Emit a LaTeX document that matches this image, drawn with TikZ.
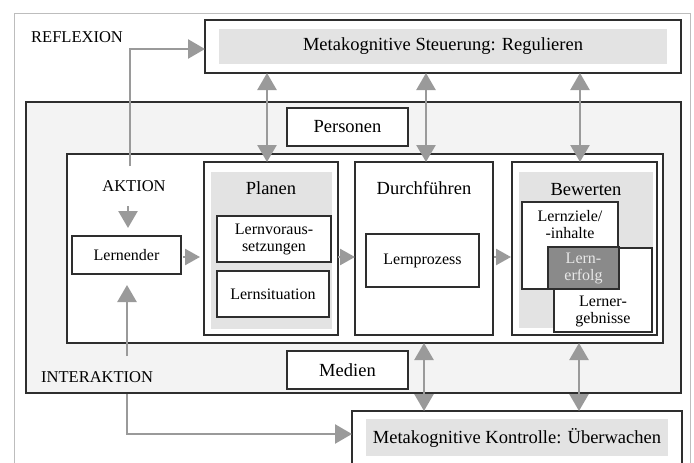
\documentclass[tikz,border=0pt]{standalone}
\usepackage{fontspec}
\setmainfont{Liberation Serif}
\usetikzlibrary{arrows.meta,calc}
\definecolor{arrgray}{HTML}{9A9A9A}
\definecolor{boxline}{HTML}{2E2E2E}
\definecolor{lightbg}{HTML}{F3F3F3}
\definecolor{bargray}{HTML}{E3E3E3}
\definecolor{darkfill}{HTML}{8A8A8A}
\definecolor{paletext}{HTML}{E8E8E8}
\definecolor{framegray}{HTML}{BDBDBD}
\begin{document}
\begin{tikzpicture}[x=1pt,y=-1pt,
  box/.style={draw=boxline, line width=1.3pt, fill=white, inner sep=0pt, outer sep=0pt},
  bar/.style={fill=bargray, inner sep=0pt, outer sep=0pt},
  big/.style={font=\fontsize{18.5}{20}\selectfont},
  small/.style={font=\fontsize{16}{17}\selectfont, align=center},
  lab/.style={font=\fontsize{16.5}{18}\selectfont, inner sep=0pt},
  arr/.style={draw=arrgray, line width=2.5pt, -{Triangle[length=17pt,width=19pt]}},
  arrs/.style={draw=arrgray, line width=2.5pt, -{Triangle[length=15pt,width=16pt]}},
  darr/.style={draw=arrgray, line width=2.5pt, {Triangle[length=17pt,width=19pt]}-{Triangle[length=17pt,width=19pt]}}
]
\useasboundingbox (0,0) rectangle (694,463);
\clip (0,0) rectangle (694,463);

% outer frame
\draw[framegray, line width=1pt] (14,13) rectangle (690,480);

% top box
\node[box, minimum width=476pt, minimum height=53pt] (steuer) at (443,46.5) {};
\node[bar, big, minimum width=448pt, minimum height=35pt] (steuerbar) at (443,46.5) {Metakognitive Steuerung: Regulieren};

% environment box
\node[box, fill=lightbg, minimum width=655pt, minimum height=291pt] (umwelt) at (353.5,247.5) {};
\node[box, big, minimum width=121pt, minimum height=38pt] (personen) at (347.5,127) {Personen};
\node[box, big, minimum width=121pt, minimum height=38pt] (medien) at (347.5,370) {Medien};

% learning box
\node[box, minimum width=596pt, minimum height=189pt] (lernen) at (365,248.5) {};

% Planen
\node[box, minimum width=134pt, minimum height=173pt] (planen) at (271,248.5) {};
\node[bar, minimum width=121pt, minimum height=157pt] (planenbar) at (271.5,250.5) {};
\node[big, anchor=base, inner sep=0pt] (planentitle) at (271,194) {Planen};
\node[box, small, minimum width=114pt, minimum height=46pt] (lernvor) at (274,239) {Lernvoraus-\\setzungen};
\node[box, small, minimum width=112pt, minimum height=46pt] (lernsit) at (273,294) {Lernsituation};

% Durchfuehren
\node[box, minimum width=138pt, minimum height=173pt] (durch) at (424,248.5) {};
\node[big, anchor=base, inner sep=0pt] (durchtitle) at (424,194) {Durchführen};
\node[box, small, minimum width=113pt, minimum height=53pt] (prozess) at (422.5,260.5) {Lernprozess};

% Bewerten
\node[box, minimum width=145pt, minimum height=173pt] (bewerten) at (584.5,248.5) {};
\node[bar, minimum width=134pt, minimum height=156pt] (bewertenbar) at (586,250) {};
\node[big, anchor=base, inner sep=0pt] (bewertentitle) at (586,195) {Bewerten};
\node[box, minimum width=96pt, minimum height=87pt] (ziele) at (570,245.5) {};
\node[box, minimum width=98pt, minimum height=84pt] (ergebnisse) at (603,290) {};
\node[small, anchor=base, inner sep=0pt] (zieletext) at (570,238) {Lernziele/\\-inhalte};
\node[small, anchor=base, inner sep=0pt] (ergebnissetext) at (603,323) {Lerner-\\gebnisse};
\node[box, small, fill=darkfill, text=paletext, minimum width=71pt, minimum height=42pt] (erfolg) at (583.5,268) {Lern-\\erfolg};

% Lernender
\node[box, small, minimum width=109pt, minimum height=38pt] (lernender) at (126.5,255) {Lernender};

% bottom box
\node[box, minimum width=330pt, minimum height=69pt] (kontroll) at (517,445.5) {};
\node[bar, big, minimum width=302pt, minimum height=37pt] (kontrollbar) at (517,437.5) {Metakognitive Kontrolle: Überwachen};

% labels
\node[lab, anchor=base west] (reflexion) at (31,42) {REFLEXION};
\node[lab, anchor=base west] (interaktion) at (41,382) {INTERAKTION};
\node[lab, anchor=base] (aktion) at (134,191) {AKTION};

% arrows
\coordinate (a1) at (130,166);
\draw[arr] (a1) |- ([yshift=-2.5pt]steuer.west);
\coordinate (a2) at (128,206);
\draw[arr, shorten >=8pt] (a2) -- (a2 |- lernender.north);
\coordinate (a3) at (127,356);
\draw[arr, shorten >=11pt] (a3) -- (a3 |- lernender.south);
\coordinate (a4) at (127,394);
\draw[arr] (a4) |- ([yshift=11.5pt]kontroll.west);

\draw[arrs, shorten >=4pt, shorten <=2pt] ([yshift=-2pt]lernender.east) -- ([yshift=-2pt]lernender.east -| planen.west);
\draw[arrs] ([yshift=-2pt]lernender.east -| planen.east) -- ([yshift=-2pt]lernender.east -| durch.west);
\draw[arrs, shorten <=1pt, shorten >=1pt] ([yshift=-2pt]lernender.east -| durch.east) -- ([yshift=-2pt]lernender.east -| bewerten.west);

\draw[darr] ([xshift=-4pt]steuer.south -| planen.north) -- ([xshift=-4pt]planen.north);
\draw[darr] ([xshift=2pt]steuer.south -| durch.north) -- ([xshift=2pt]durch.north);
\draw[darr] ([xshift=-4.5pt]steuer.south -| bewerten.north) -- ([xshift=-4.5pt]bewerten.north);

\draw[darr] (durch.south |- lernen.south) -- (durch.south |- kontroll.north);
\draw[darr] ([xshift=-5.5pt]bewerten.south |- lernen.south) -- ([xshift=-5.5pt]bewerten.south |- kontroll.north);
\end{tikzpicture}
\end{document}
